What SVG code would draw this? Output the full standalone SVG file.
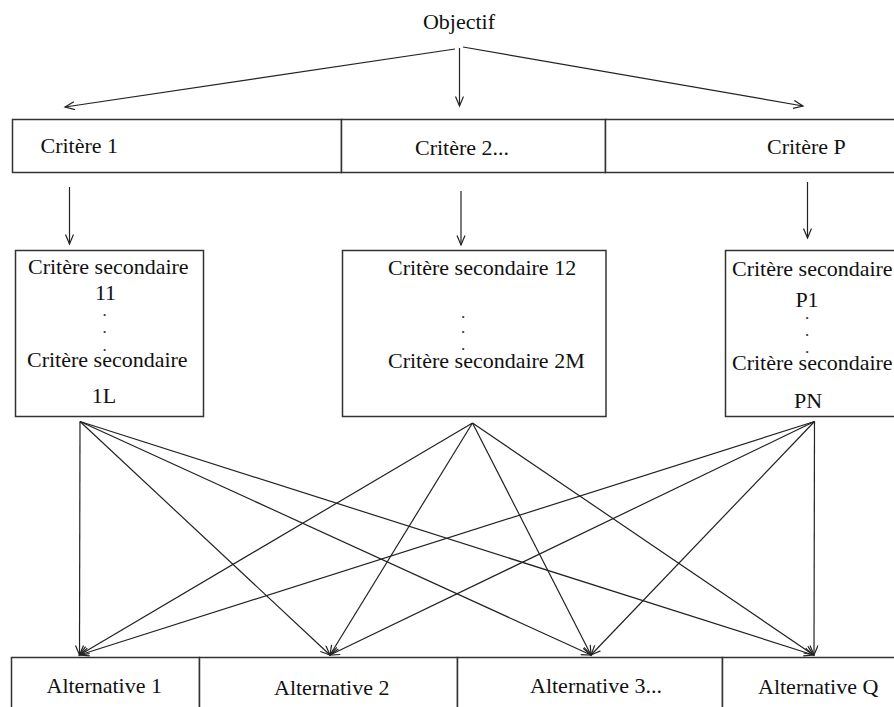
<svg xmlns="http://www.w3.org/2000/svg" width="894" height="707" viewBox="0 0 894 707">
<style>
  text { font-family: "Liberation Serif", "Times New Roman", serif; font-size: 22px; fill: #111; }
  text.dot { font-size: 13px; font-weight: bold; fill: #333; }
  .box { fill: #fff; stroke: #333; stroke-width: 1.5; }
  .c { text-anchor: middle; }
  .conn line { stroke: #222; stroke-width: 1.2; fill: none; marker-end: url(#arr); }
</style>
<defs>
  <marker id="arr" markerUnits="userSpaceOnUse" markerWidth="12" markerHeight="10" refX="10" refY="4.5" orient="auto">
    <path d="M0.5,0.5 L10,4.5 L0.5,8.5" fill="none" stroke="#222" stroke-width="1.2"/>
  </marker>
</defs>
<rect width="894" height="707" fill="#fff"/>

<g id="objectif">
  <text x="459" y="29" class="c">Objectif</text>
</g>

<g id="critere1">
  <rect class="box" x="12.5" y="119.5" width="329" height="53"/>
  <text x="40.5" y="153">Critère 1</text>
</g>
<g id="critere2">
  <rect class="box" x="341.5" y="119.5" width="264" height="53"/>
  <text x="415" y="155">Critère 2...</text>
</g>
<g id="critereP">
  <rect class="box" x="605.5" y="119.5" width="300" height="53"/>
  <text x="767" y="154">Critère P</text>
</g>

<g id="secondaire1">
  <rect class="box" x="15.5" y="250.5" width="188" height="166"/>
  <text x="28" y="273.5">Critère secondaire</text>
  <text x="105.5" y="300" class="c">11</text>
  <text x="104.5" y="316" class="c dot">.</text>
  <text x="104.5" y="333" class="c dot">.</text>
  <text x="104.5" y="350.5" class="c dot">.</text>
  <text x="27" y="367">Critère secondaire</text>
  <text x="104" y="403" class="c">1L</text>
</g>
<g id="secondaire2">
  <rect class="box" x="342.5" y="250.5" width="263.5" height="166"/>
  <text x="388" y="275">Critère secondaire 12</text>
  <text x="463" y="317.5" class="c dot">.</text>
  <text x="463" y="333" class="c dot">.</text>
  <text x="463" y="349.5" class="c dot">.</text>
  <text x="388" y="368">Critère secondaire 2M</text>
</g>
<g id="secondaireP">
  <rect class="box" x="725.5" y="250.5" width="200" height="166"/>
  <text x="732" y="276">Critère secondaire</text>
  <text x="807" y="307" class="c">P1</text>
  <text x="807" y="319" class="c dot">.</text>
  <text x="807" y="335.5" class="c dot">.</text>
  <text x="807" y="353" class="c dot">.</text>
  <text x="732" y="370">Critère secondaire</text>
  <text x="808" y="408" class="c">PN</text>
</g>

<g id="alt1">
  <rect class="box" x="11.5" y="657.5" width="188" height="60"/>
  <text x="46.5" y="692.5">Alternative 1</text>
</g>
<g id="alt2">
  <rect class="box" x="199.5" y="657.5" width="258" height="60"/>
  <text x="274" y="694.5">Alternative 2</text>
</g>
<g id="alt3">
  <rect class="box" x="457.5" y="657.5" width="265" height="60"/>
  <text x="530" y="692.5">Alternative 3...</text>
</g>
<g id="altQ">
  <rect class="box" x="722.5" y="657.5" width="200" height="60"/>
  <text x="758" y="693.5">Alternative Q</text>
</g>

<g id="connectors" class="conn">
  <line x1="455" y1="49" x2="65" y2="107"/>
  <line x1="459.5" y1="48" x2="459.5" y2="106"/>
  <line x1="463" y1="47" x2="803" y2="106"/>

  <line x1="69.5" y1="187" x2="69.5" y2="244"/>
  <line x1="461" y1="191" x2="461" y2="245"/>
  <line x1="807.5" y1="182" x2="807.5" y2="238"/>

  <line x1="80" y1="421.5" x2="79.5" y2="655"/>
  <line x1="80" y1="421.5" x2="330" y2="655"/>
  <line x1="80" y1="421.5" x2="591" y2="655"/>
  <line x1="80" y1="421.5" x2="813.5" y2="655"/>

  <line x1="472.5" y1="423" x2="79.5" y2="655"/>
  <line x1="472.5" y1="423" x2="330" y2="655"/>
  <line x1="472.5" y1="423" x2="591" y2="655"/>
  <line x1="472.5" y1="423" x2="813.5" y2="655"/>

  <line x1="814.5" y1="421.5" x2="79.5" y2="655"/>
  <line x1="814.5" y1="421.5" x2="330" y2="655"/>
  <line x1="814.5" y1="421.5" x2="591" y2="655"/>
  <line x1="814.5" y1="421.5" x2="814" y2="655"/>
</g>
</svg>
